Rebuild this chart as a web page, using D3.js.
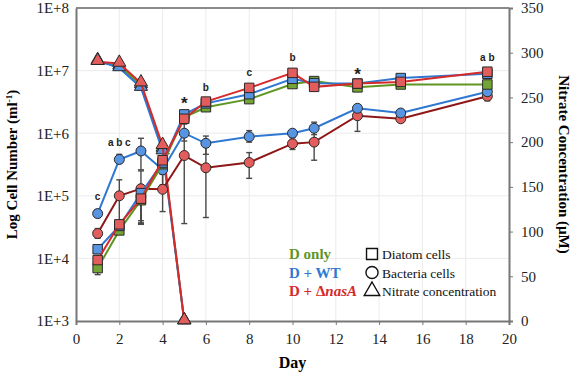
<!DOCTYPE html>
<html>
<head>
<meta charset="utf-8">
<script src="https://cdn.jsdelivr.net/npm/d3@7"></script>
<style>
  body { margin: 0; background: #fff; }
</style>
</head>
<body>
<div id="chart"></div>
<script>
// --- data ---
var days = [1, 2, 3, 4, 5, 6, 8, 10, 11, 13, 15, 19];
var nitrateDays = [1, 2, 3, 4, 5];

// diatom cells (squares)
var diatomD   = [7.0e3, 2.8e4, 8.5e4, 3.2e5, 1.8e6, 2.6e6, 3.5e6, 6.1e6, 6.8e6, 5.4e6, 6.0e6, 6.0e6];
var diatomWT  = [1.4e4, 3.3e4, 1.1e5, 3.4e5, 2.0e6, 3.0e6, 4.2e6, 7.4e6, 6.3e6, 6.2e6, 7.6e6, 8.9e6];
var diatomNas = [9.4e3, 3.5e4, 9.0e4, 3.7e5, 1.7e6, 3.2e6, 5.3e6, 9.2e6, 5.5e6, 6.2e6, 6.6e6, 9.6e6];
var diatomDLo   = [5.5e3, 2.5e4, 3.6e4, 2.8e5, 1.6e6, 2.4e6, 3.1e6, 5.4e6, 6.0e6, 5.0e6, 5.6e6, 5.6e6];
var diatomDHi   = [8.5e3, 3.2e4, 1.2e5, 3.7e5, 2.0e6, 2.8e6, 3.9e6, 6.7e6, 7.4e6, 5.8e6, 6.4e6, 6.4e6];
var diatomWTLo  = [1.2e4, 3.0e4, 4.0e4, 3.0e5, 1.8e6, 2.8e6, 3.8e6, 6.8e6, 5.5e6, 5.8e6, 7.2e6, 8.4e6];
var diatomWTHi  = [1.6e4, 3.7e4, 1.5e5, 3.9e5, 2.2e6, 3.2e6, 4.6e6, 8.0e6, 7.0e6, 6.6e6, 8.0e6, 9.4e6];
var diatomNasLo = [8.0e3, 3.1e4, 3.5e4, 3.2e5, 1.5e6, 3.0e6, 4.8e6, 8.6e6, 4.8e6, 5.8e6, 6.2e6, 9.0e6];
var diatomNasHi = [1.1e4, 3.9e4, 1.3e5, 4.2e5, 1.9e6, 3.4e6, 5.8e6, 9.8e6, 6.2e6, 6.6e6, 7.0e6, 1.02e7];

// bacteria cells (circles)
var bactWT  = [5.2e4, 3.8e5, 5.2e5, 2.6e5, 1.0e6, 6.9e5, 8.8e5, 1.0e6, 1.2e6, 2.5e6, 2.1e6, 4.6e6];
var bactNas = [2.5e4, 1.0e5, 1.3e5, 1.27e5, 4.4e5, 2.8e5, 3.4e5, 6.8e5, 7.2e5, 1.9e6, 1.7e6, 3.9e6];
var bactWTLo  = [4.5e4, 3.3e5, 2.6e5, 1.5e5, 7.5e5, 4.6e5, 7.2e5, 9.0e5, 9.5e5, 2.3e6, 1.9e6, 4.1e6];
var bactWTHi  = [6.0e4, 4.6e5, 8.3e5, 3.5e5, 1.4e6, 9.0e5, 1.1e6, 1.1e6, 1.5e6, 2.7e6, 2.3e6, 5.2e6];
var bactNasLo = [2.1e4, 3.5e4, 3.7e4, 5.6e4, 3.6e4, 4.5e4, 1.9e5, 5.5e5, 3.7e5, 1.07e6, 1.5e6, 3.3e6];
var bactNasHi = [3.0e4, 1.8e5, 2.5e5, 2.2e5, 1.0e6, 6.0e5, 4.9e5, 8.5e5, 1.1e6, 2.3e6, 1.9e6, 4.6e6];

// nitrate (triangles, right axis)
var nitrateD   = [290, 285, 264, 193, 0];
var nitrateWT  = [291, 283, 261, 190, 0];
var nitrateNas = [290, 288, 266, 196, 0];

var leftTicks = [1e3, 1e4, 1e5, 1e6, 1e7, 1e8];
var leftTickLabels = ['1E+3', '1E+4', '1E+5', '1E+6', '1E+7', '1E+8'];
var rightTicks = [0, 50, 100, 150, 200, 250, 300, 350];
var xTicks = [0, 2, 4, 6, 8, 10, 12, 14, 16, 18, 20];

var notes = [
  { day: 1,  val: 1.0e5, txt: 'c' },
  { day: 2,  val: 7.2e5, txt: 'a b c' },
  { day: 5,  val: 3.4e6, txt: '*', big: true },
  { day: 6,  val: 5.5e6, txt: 'b' },
  { day: 8,  val: 9.5e6, txt: 'c' },
  { day: 10, val: 1.66e7, txt: 'b' },
  { day: 13, val: 1.0e7, txt: '*', big: true },
  { day: 19, val: 1.66e7, txt: 'a b' }
];

var green = '#5f9623', greenFill = '#74a534';
var blue = '#2f78d2', blueFill = '#5794e2';
var red = '#d62a2a', redFill = '#e35d5d';
var darkRed = '#8e1616';
var serifStyle = "font-family: 'Liberation Serif', 'Times New Roman', serif";

var dim = { width: 574, height: 376 };
var m = { left: 76, right: 65, top: 8, bottom: 55 };

var svg = d3.select('#chart').append('svg')
  .attr('width', dim.width).attr('height', dim.height);

var x = d3.scaleLinear().domain([0, 20]).range([m.left, dim.width - m.right]);
var y = d3.scaleLog().domain([1e3, 1e8]).range([dim.height - m.bottom, m.top]);
var y2 = d3.scaleLinear().domain([0, 350]).range([dim.height - m.bottom, m.top]);

// grid
var grid = svg.append('g');
grid.selectAll('.vg').data(xTicks.slice(1, -1)).enter().append('line')
  .attr('x1', d => x(d)).attr('x2', d => x(d))
  .attr('y1', y.range()[1]).attr('y2', y.range()[0])
  .attr('stroke', '#ebebeb').attr('stroke-width', 1);
grid.selectAll('.hg').data(leftTicks.slice(1, -1)).enter().append('line')
  .attr('x1', x(0)).attr('x2', x(20))
  .attr('y1', d => y(d)).attr('y2', d => y(d))
  .attr('stroke', '#ebebeb').attr('stroke-width', 1);

// top frame line
svg.append('line')
  .attr('x1', x(0)).attr('x2', x(20)).attr('y1', y(1e8)).attr('y2', y(1e8))
  .attr('stroke', '#8a8a8a').attr('stroke-width', 2);

// axes
var xAxis = svg.append('g')
  .attr('transform', 'translate(0,' + y.range()[0] + ')')
  .call(d3.axisBottom(x).tickValues(xTicks).tickSize(4).tickPadding(8));
var yAxis = svg.append('g')
  .attr('transform', 'translate(' + x(0) + ',0)')
  .call(d3.axisLeft(y).tickValues(leftTicks).tickFormat((d, i) => leftTickLabels[i]).tickSize(0).tickPadding(7));
var y2Axis = svg.append('g')
  .attr('transform', 'translate(' + x(20) + ',0)')
  .call(d3.axisRight(y2).tickValues(rightTicks).tickSize(4).tickPadding(8));

[xAxis, yAxis, y2Axis].forEach(function (a) {
  a.select('.domain').attr('stroke', '#777').attr('stroke-width', 2);
  a.selectAll('.tick line').attr('stroke', '#777');
  a.selectAll('.tick text').attr('style', serifStyle + '; font-size: 15px').attr('fill', '#222');
});

// axis titles
svg.append('text')
  .attr('style', serifStyle)
  .attr('x', x(10)).attr('y', 368)
  .attr('text-anchor', 'middle').attr('font-size', 16).attr('font-weight', 'bold')
  .text('Day');

var lt = svg.append('text')
  .attr('style', serifStyle)
  .attr('transform', 'translate(17,' + ((m.top + y.range()[0]) / 2) + ') rotate(-90)')
  .attr('text-anchor', 'middle').attr('font-size', 15).attr('font-weight', 'bold');
lt.append('tspan').text('Log Cell Number (ml');
lt.append('tspan').attr('font-size', 9).attr('dy', -5).text('-1');
lt.append('tspan').attr('dy', 5).text(')');

svg.append('text')
  .attr('style', serifStyle)
  .attr('transform', 'translate(559,' + ((m.top + y.range()[0]) / 2) + ') rotate(90)')
  .attr('text-anchor', 'middle').attr('font-size', 15).attr('font-weight', 'bold')
  .text('Nitrate Concentration (\u03bcM)');

// helpers
var lineLog = d3.line().x(d => x(d[0])).y(d => y(d[1]));
var lineLin = d3.line().x(d => x(d[0])).y(d => y2(d[1]));

function errBars(vals, lo, hi) {
  var g = svg.append('g').attr('stroke', '#4a4a4a').attr('stroke-width', 1.4);
  days.forEach(function (d, i) {
    var cx = x(d);
    g.append('line').attr('x1', cx).attr('x2', cx).attr('y1', y(lo[i])).attr('y2', y(hi[i]));
    g.append('line').attr('x1', cx - 3).attr('x2', cx + 3).attr('y1', y(lo[i])).attr('y2', y(lo[i]));
    g.append('line').attr('x1', cx - 3).attr('x2', cx + 3).attr('y1', y(hi[i])).attr('y2', y(hi[i]));
  });
}

function series(vals, color, fill, shape) {
  var pts = days.map((d, i) => [d, vals[i]]);
  svg.append('path').datum(pts)
    .attr('d', lineLog).attr('fill', 'none').attr('stroke', color).attr('stroke-width', 2);
  var sym = d3.symbol().type(shape === 'square' ? d3.symbolSquare : d3.symbolCircle)
    .size(shape === 'square' ? 90 : 78);
  svg.append('g').selectAll('path').data(pts).enter().append('path')
    .attr('d', sym)
    .attr('transform', d => 'translate(' + x(d[0]) + ',' + y(d[1]) + ')')
    .attr('fill', fill).attr('stroke', '#2a2a2a').attr('stroke-width', 1);
}

function nitrate(vals, color, fill) {
  var pts = nitrateDays.map((d, i) => [d, vals[i]]);
  svg.append('path').datum(pts)
    .attr('d', lineLin).attr('fill', 'none').attr('stroke', color).attr('stroke-width', 2);
  svg.append('g').selectAll('path').data(pts).enter().append('path')
    .attr('d', d3.symbol().type(d3.symbolTriangle).size(75))
    .attr('transform', d => 'translate(' + x(d[0]) + ',' + (y2(d[1]) - 1) + ')')
    .attr('fill', fill).attr('stroke', '#2a2a2a').attr('stroke-width', 1);
}

// error bars
errBars(diatomD, diatomDLo, diatomDHi);
errBars(diatomWT, diatomWTLo, diatomWTHi);
errBars(diatomNas, diatomNasLo, diatomNasHi);
errBars(bactWT, bactWTLo, bactWTHi);
errBars(bactNas, bactNasLo, bactNasHi);

// nitrate
nitrate(nitrateD, green, greenFill);
nitrate(nitrateWT, blue, blueFill);
nitrate(nitrateNas, red, redFill);

// cells
series(bactNas, darkRed, redFill, 'circle');
series(bactWT, blue, blueFill, 'circle');
series(diatomD, green, greenFill, 'square');
series(diatomWT, blue, blueFill, 'square');
series(diatomNas, red, redFill, 'square');

// significance letters
svg.append('g').selectAll('text').data(notes).enter().append('text')
  .attr('x', d => x(d.day))
  .attr('y', d => y(d.val) + (d.big ? 9 : 4))
  .attr('text-anchor', 'middle')
  .attr('font-family', 'Liberation Sans')
  .attr('font-weight', 'bold')
  .attr('font-size', d => d.big ? 17 : 10)
  .attr('fill', '#222')
  .text(d => d.txt);

// legend
var lg = svg.append('g');
var groups = [
  { txt: 'D only', color: green },
  { txt: 'D + WT', color: blue },
  { txt: 'D + \u0394', italic: 'nasA', color: red }
];
groups.forEach(function (g, i) {
  var t = lg.append('text').attr('style', serifStyle)
    .attr('x', 289).attr('y', 259 + i * 18.5)
    .attr('font-size', 15).attr('font-weight', 'bold').attr('fill', g.color).text(g.txt);
  if (g.italic) t.append('tspan').attr('font-style', 'italic').text(g.italic);
});
var shapes = [
  { txt: 'Diatom cells', type: d3.symbolSquare, size: 120 },
  { txt: 'Bacteria cells', type: d3.symbolCircle, size: 115 },
  { txt: 'Nitrate concentration', type: d3.symbolTriangle, size: 105 }
];
shapes.forEach(function (s, i) {
  var cy = 254 + i * 18.5;
  lg.append('path').attr('d', d3.symbol().type(s.type).size(s.size))
    .attr('transform', 'translate(372,' + cy + ')')
    .attr('fill', 'none').attr('stroke', '#111').attr('stroke-width', 1.4);
  lg.append('text').attr('style', serifStyle)
    .attr('x', 382).attr('y', cy + 5).attr('font-size', 13.5)
    .attr('fill', '#111').text(s.txt);
});
</script>
</body>
</html>
